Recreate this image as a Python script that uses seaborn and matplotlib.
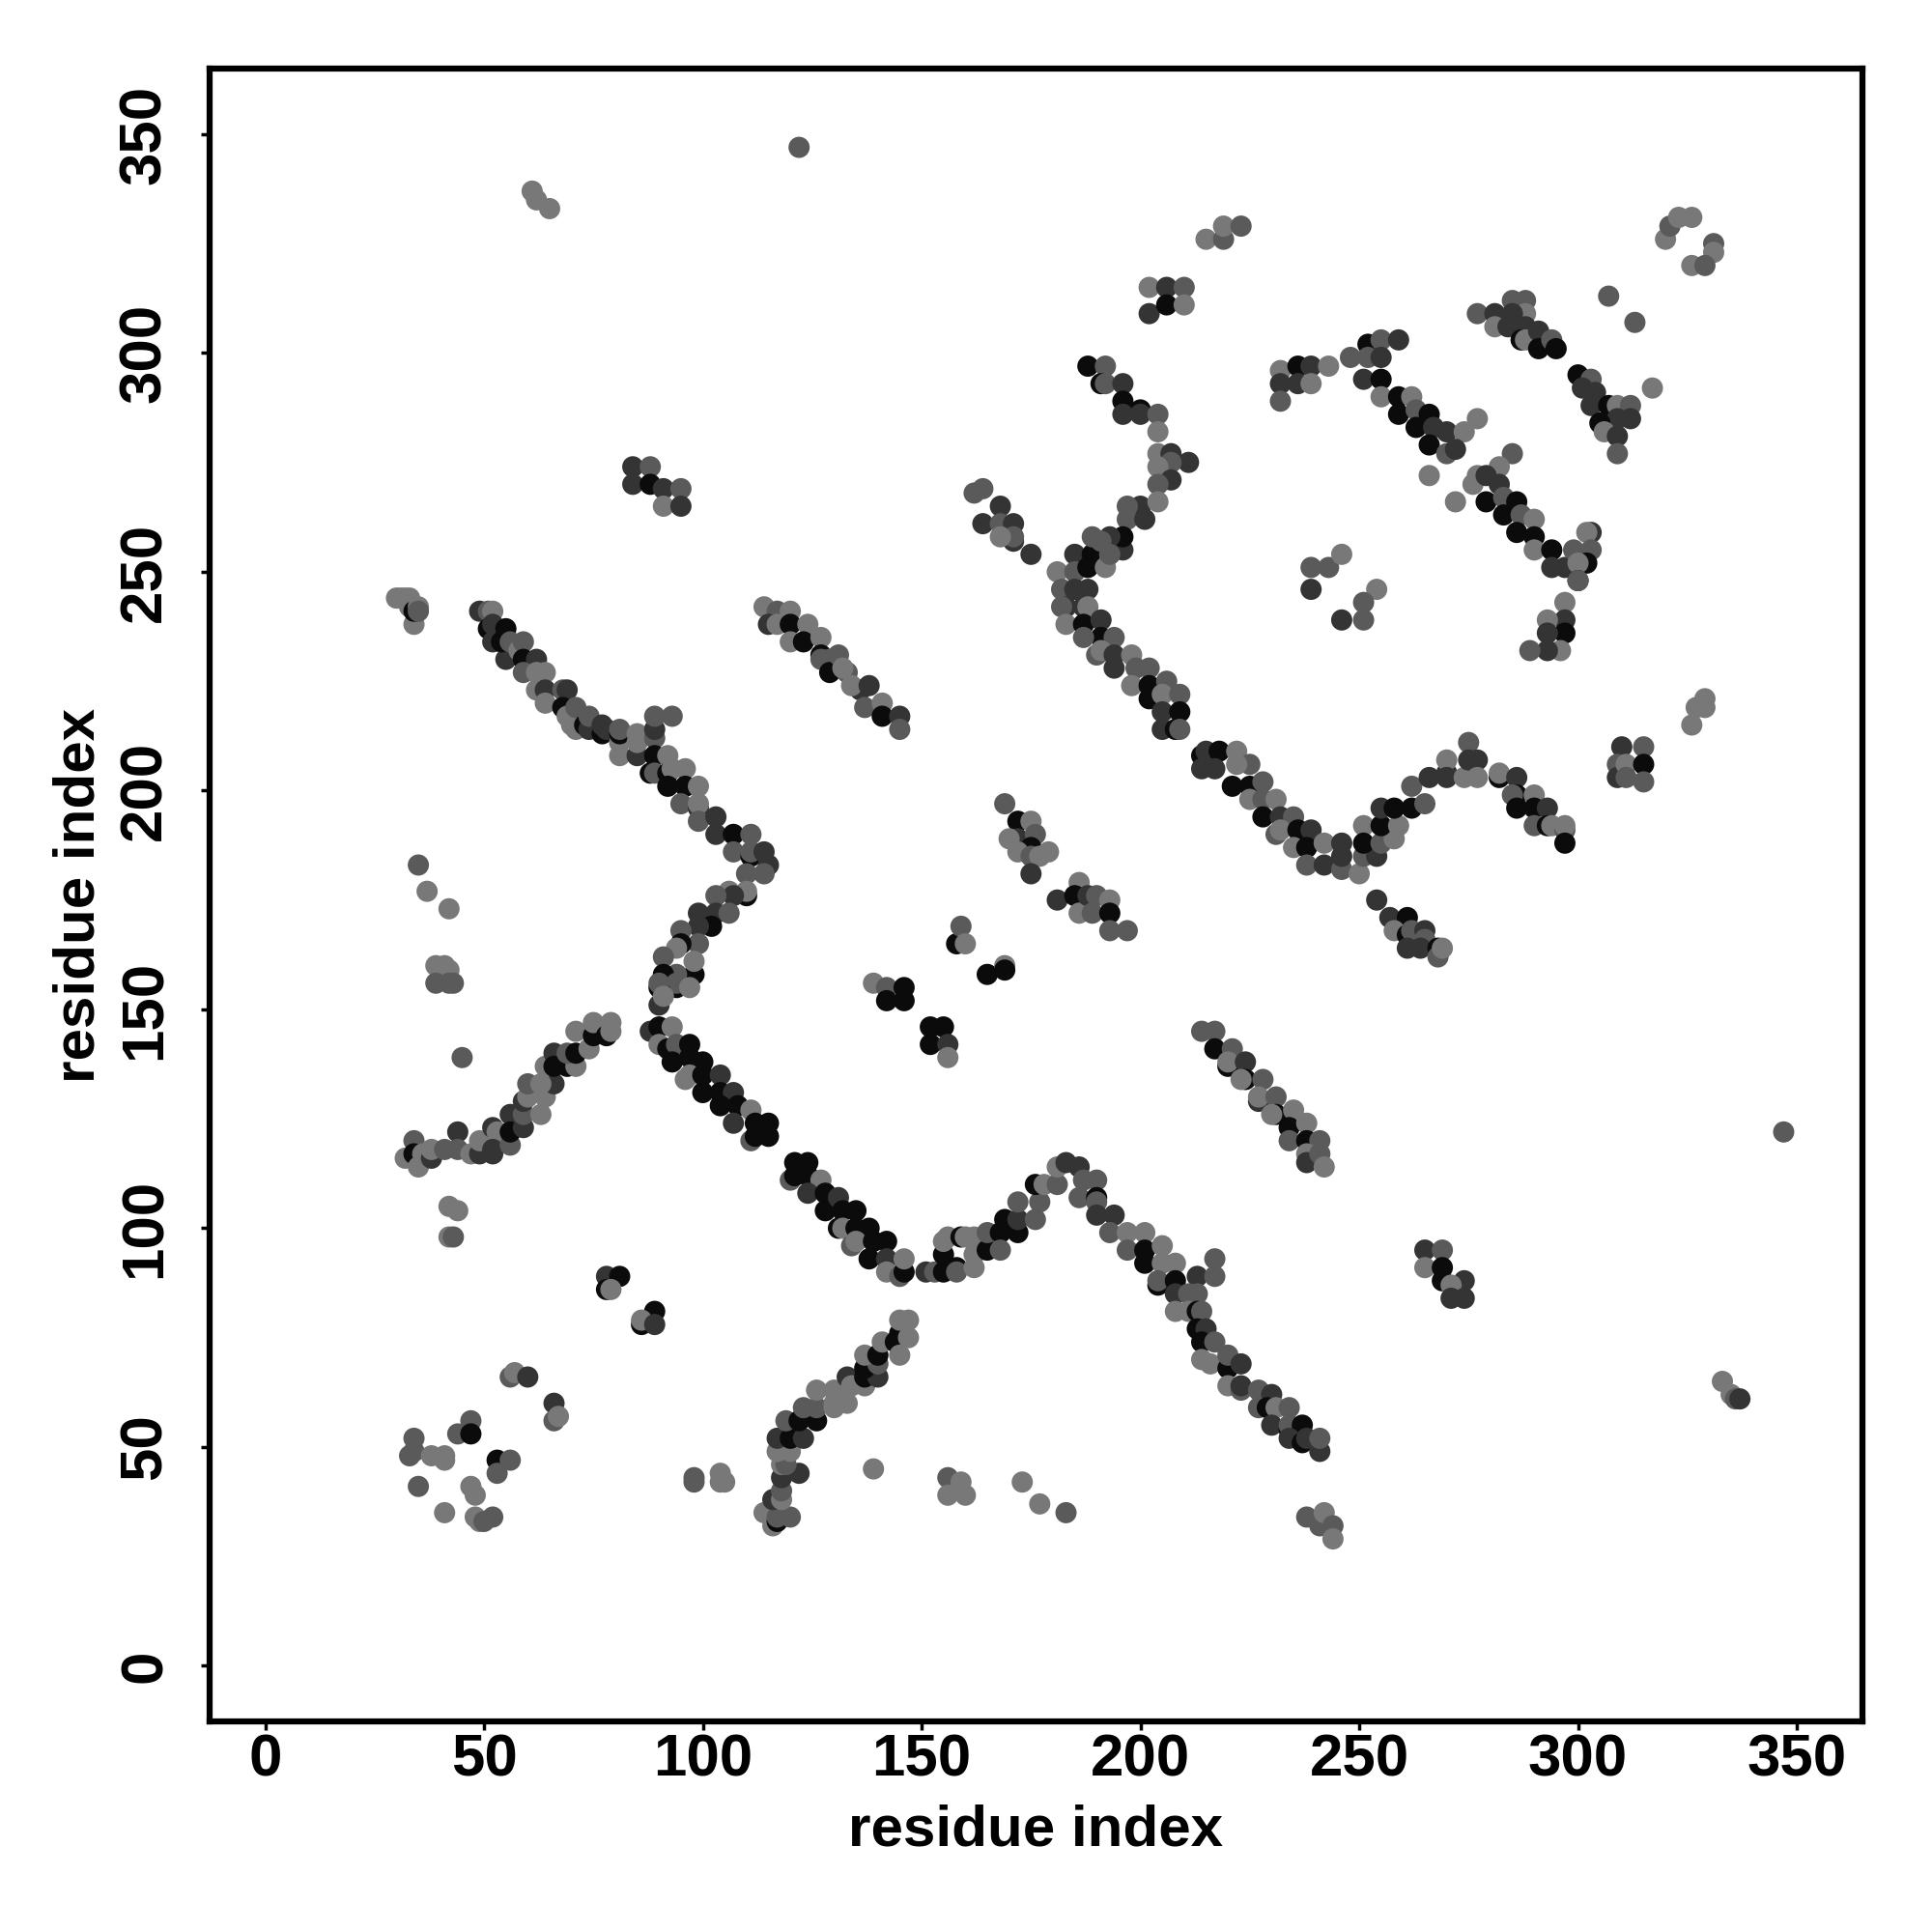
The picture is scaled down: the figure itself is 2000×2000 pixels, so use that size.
import pandas as pd
import matplotlib
matplotlib.use('Agg')
import matplotlib.pyplot as plt
import seaborn as sns

# shade levels of the dots
K, D, M, L = 0, 1, 2, 3
shade_colors = {K: '#0b0b0b', D: '#343434', M: '#5a5a5a', L: '#787878'}

tick_values = [0, 50, 100, 150, 200, 250, 300, 350]

# (residue x, residue y, shade), one list per region
corner_left = [(30,244,L),(31,244,L),(32,244,L),(33,244,L),(34,238,L),(33,242,L),(34,241,K),(35,242,L),(35,241,M)]

strand_upper_left = [
    (49,241,D),(51,241,M),(52,241,L),(51,237,K),(52,238,D),(52,234,D),(55,237,K),(55,230,D),(54,234,K),(56,234,M),
    (58,232,L),(59,234,M),(59,230,K),(62,230,D),(59,227,M),(62,227,L),(64,227,L),(62,223,L),(64,223,D),(64,220,L),
    (68,223,M),(69,223,D),(68,219,K),(69,217,L),(70,215,L),(71,214,L),(71,219,M),(73,215,K),(74,214,D),(74,217,M),
    (77,213,K),(77,215,D),(78,214,D),(81,211,L),(81,208,L),(81,213,K),(81,214,M),(85,208,D),(85,211,L),(85,213,L),
    (89,212,M),(89,214,D),(89,217,M),(93,217,M),(89,208,K),(88,204,K),(89,204,M),(92,208,L),(92,204,K),(93,205,L),
    (96,205,L),(92,201,K),(96,201,K),(99,201,L),(95,197,M),(99,196,D),(99,197,L),(99,193,M),(103,194,D),(103,190,D),
    (107,190,K),(111,190,M),(107,186,M),(111,185,K),(111,186,M),(114,186,D),(115,183,D),(114,181,M),(110,181,M),
    (110,176,K),(110,177,L),(106,177,L),(107,176,D),(103,176,M),(103,172,D),(106,172,M),(99,172,D),(102,169,K),
    (99,169,D),(95,168,M),(99,165,M),(95,165,K),(94,164,L),(91,162,M),(98,158,K),(98,161,L),(94,158,M),(91,158,K),
    (94,155,K),(94,156,M),(97,155,L),(90,155,K),(90,156,M),(90,151,D),(91,153,L),
]

strand_left_rise = [
    (32,116,L),(34,120,M),(34,117,K),(35,114,L),(36,117,L),(38,116,D),(38,118,L),(41,118,M),(44,122,D),(44,118,M),
    (47,117,L),(49,117,D),(49,120,L),(52,123,D),(53,122,L),(52,117,D),(52,118,D),(56,119,M),(56,126,D),(56,122,K),
    (59,123,D),(59,126,M),(63,126,L),(59,129,D),(60,130,L),(60,133,M),(64,130,L),(66,133,D),(63,133,L),(64,137,L),
    (66,140,D),(66,137,K),(69,137,K),(71,137,L),(69,140,M),(71,140,K),(74,141,L),(71,145,L),(75,144,K),(75,147,L),
    (78,144,K),(79,147,L),(79,145,L),
]

strand_lower_middle = [
    (88,145,D),(90,146,K),(93,146,L),(90,142,L),(92,141,K),(94,142,M),(97,142,K),(93,138,K),(97,139,K),(100,138,K),
    (96,134,L),(97,135,L),(100,135,K),(104,135,D),(100,131,K),(104,131,K),(107,131,D),(104,128,K),(108,128,K),(111,127,L),
    (107,124,D),(111,120,M),(112,124,K),(115,124,K),(112,121,K),(115,121,K),(120,111,M),(121,115,K),(124,115,K),(121,112,K),
    (124,112,K),(127,111,L),(124,108,D),(128,108,K),(128,104,K),(131,107,D),(132,104,K),(135,104,K),(131,100,K),(132,100,L),
    (135,100,K),(138,100,K),(134,96,M),(135,97,L),(139,97,K),(142,97,K),(138,93,K),(142,93,D),(142,90,L),(145,89,M),
    (146,90,K),(146,93,L),(151,90,D),(153,90,M),(155,90,K),(155,94,K),(155,97,L),(156,98,L),(158,91,K),(158,90,M),
    (159,98,K),(160,98,L),(162,91,L),(162,94,L),(162,98,L),(165,95,K),(165,99,M),(168,99,K),(168,95,M),(169,102,K),
    (172,99,K),(172,102,D),(172,106,M),(176,102,M),(177,106,M),(176,110,K),(178,110,L),(181,110,M),(181,114,L),(183,115,D),
    (186,114,D),(187,111,M),(186,107,M),(190,111,M),(190,107,K),(190,106,M),(190,103,D),(194,103,D),(193,99,M),(197,99,L),
    (201,99,L),(197,95,M),(201,95,K),(201,92,K),(205,96,L),(205,92,L),(208,92,L),(204,87,K),(204,88,M),(208,88,K),
    (208,85,D),(213,89,D),(217,89,M),(217,93,M),(211,85,M),(213,85,M),(208,81,L),(211,81,L),(213,81,K),(214,81,M),
    (213,77,K),(215,77,D),(214,74,K),(217,74,M),(214,70,L),(216,69,L),(220,68,K),(220,71,M),(223,69,D),(220,64,L),
    (223,63,M),(223,64,D),(227,63,M),(230,62,D),(227,59,M),(229,59,K),(231,59,L),(234,59,M),(230,55,D),(234,54,K),
    (234,55,M),(237,55,K),(234,52,D),(237,51,K),(238,52,D),(241,49,D),(241,52,M),
]

strand_lower_rise = [
    (114,35,L),(116,32,L),(117,33,K),(117,34,M),(120,34,M),(116,38,D),(118,38,L),(118,40,M),(118,43,D),(122,44,D),
    (118,46,L),(119,46,M),(117,49,L),(120,49,L),(117,52,D),(120,52,K),(123,52,D),(119,56,M),(122,56,K),(126,56,K),
    (123,59,M),(126,59,M),(130,59,L),(126,63,L),(130,60,L),(130,63,L),(133,60,L),(133,66,D),(134,64,L),(137,64,L),
    (137,66,K),(140,66,D),(137,68,K),(140,69,M),(137,71,L),(140,71,K),(141,74,L),(144,74,K),(145,71,L),(145,76,K),
    (147,75,L),(145,79,L),(147,79,L),
]

strand_center_right = [
    (171,257,D),(175,254,D),(185,254,D),(189,254,K),(193,254,L),(196,255,D),(181,250,L),(185,250,M),(188,251,K),(192,251,L),
    (182,246,M),(185,246,D),(188,246,D),(183,242,D),(182,242,M),(187,242,D),(188,242,L),(183,238,L),(187,238,K),(191,239,D),
    (191,235,K),(187,235,M),(194,235,M),(190,231,M),(191,232,L),(194,231,D),(194,228,D),(198,231,L),(199,228,M),(202,228,M),
    (198,224,L),(202,224,K),(202,221,K),(206,225,M),(205,222,L),(209,222,M),(205,218,D),(209,218,K),(205,214,D),(208,214,K),(209,214,M),
    (214,208,K),(215,209,D),(218,209,K),(214,205,D),(217,205,D),(222,209,L),(225,206,M),(222,206,L),(221,201,K),(225,201,K),
    (228,202,M),(225,198,L),(228,198,M),(231,198,L),(228,194,K),(232,194,D),(235,194,M),(231,190,M),(232,191,L),(236,191,K),
    (239,191,D),(235,187,L),(238,187,K),(242,188,L),(246,188,D),(238,183,M),(242,183,D),(246,182,M),(246,185,D),(250,181,L),
    (251,192,L),(251,185,M),(254,185,D),(251,188,K),(255,188,M),(258,189,L),(255,192,K),(259,192,L),(255,196,D),(258,196,K),
    (262,196,K),(265,197,M),(262,201,M),(266,203,D),(270,204,D),(270,207,L),(270,203,D),(274,203,L),(275,211,M),(275,207,D),
    (277,207,D),(277,203,L),(282,203,K),(282,204,L),(286,203,D),(286,199,K),(285,199,M),(290,199,L),(286,196,K),(290,196,K),
    (293,196,D),(290,192,M),(293,192,K),(294,192,L),(297,191,M),(297,192,L),(297,188,K),
]

strand_lower_right = [(254,175,D),(257,171,D),(261,171,K),(258,168,L),(261,167,K),(262,168,M),(265,168,D),(265,166,M),
                      (261,164,D),(264,164,D),(268,164,K),(268,162,M),(269,164,L)]

strand_diag_a = [(114,242,L),(117,241,M),(120,241,L),(115,238,D),(117,238,L),(120,238,K),(124,238,L),(120,234,L),(123,234,K),
                 (127,235,L),(127,231,K),(127,230,M),(129,230,M),(129,227,K),(131,231,M),(133,227,M),(132,228,L),(136,223,D),
                 (134,224,L),(138,224,D),(137,219,M),(141,220,L),(141,217,K),(145,217,D),(145,214,M)]

strand_diag_b = [(214,145,M),(217,145,M),(217,141,K),(221,141,M),(220,137,K),(220,138,L),(224,138,D),(224,134,K),(223,134,L),
                 (228,134,M),(227,129,D),(227,130,L),(231,130,M),(231,126,K),(230,126,L),(235,127,L),(234,123,K),(238,124,L),
                 (234,120,M),(238,120,K),(241,120,M),(238,117,L),(238,115,D),(241,117,M),(242,114,L)]

strand_upper_mid = [
    (188,297,K),(192,297,M),(191,293,K),(192,293,M),(196,293,D),(196,289,K),(200,287,K),(196,286,D),(200,286,D),(204,286,M),
    (204,282,L),(204,277,L),(207,277,D),(211,275,D),(207,275,M),(204,274,L),(207,271,D),(204,270,M),(200,265,D),(197,265,M),
    (204,266,L),(197,262,M),(201,262,D),(196,258,K),(193,258,D),(191,257,M),(189,258,M),(193,254,M),
]

strand_top_right = [
    (232,296,L),(236,297,K),(239,297,D),(243,297,L),(232,293,D),(236,293,D),(239,293,L),(232,289,M),
    (248,299,M),(252,302,K),(252,299,M),(255,303,M),(255,299,D),(259,303,D),(251,294,D),(255,294,K),(255,290,L),(259,290,K),
    (262,290,L),(259,286,K),(263,287,M),(266,286,K),(263,283,K),(267,283,D),(270,282,D),(274,282,L),(277,285,L),(266,279,K),
    (270,277,M),(272,278,D),(266,272,L),(272,266,L),(285,277,M),(282,274,L),(276,270,L),(277,272,L),(279,272,D),(282,270,D),
    (279,266,K),(283,267,M),(286,266,K),(283,263,K),(287,263,M),(290,262,L),(286,259,K),(290,258,K),(290,255,L),(294,255,K),
    (294,251,D),(297,251,D),(299,255,M),(303,259,D),(302,259,L),(303,255,M),(302,252,K),(300,252,L),(300,248,K),(300,248,M),
    (297,243,L),(297,239,D),(293,239,L),(297,236,K),(293,236,D),(296,232,L),(293,232,D),(289,232,M),
]

cluster_right_top = [(277,309,M),(281,309,D),(281,306,L),(285,312,M),(284,306,D),(288,312,M),(288,309,L),(285,309,D),(288,306,D),
                     (287,303,K),(288,303,L),(291,305,D),(291,301,K),(294,303,M),(295,301,K),(307,313,M),(313,307,M),(317,292,L),
                     (300,295,K),(303,294,M),(301,292,D),(304,291,D),(303,288,D),(307,288,K),(309,288,L),(312,288,M),(309,285,D),
                     (312,285,D),(305,284,K),(306,282,L),(309,281,D),(309,277,M)]

cluster_middle = [(169,197,M),(172,193,K),(175,193,L),(172,189,D),(170,189,L),(176,190,M),(175,187,K),(172,186,L),(175,185,M),
                  (179,186,L),(177,185,L),(175,181,D),(181,175,D),(186,179,L),(185,176,K),(186,172,L),(188,176,D),(190,176,M),
                  (189,172,M),(193,175,L),(193,172,K),(193,168,M),(197,168,M)]

cluster_center_dots = [(139,156,L),(142,155,M),(146,155,K),(142,152,K),(146,152,K),(152,146,K),(155,146,K),(152,142,K),(156,142,D),(156,139,L),
                       (158,165,K),(159,169,M),(160,165,L),(165,158,K),(169,160,L),(169,159,K)]

cluster_mid_right = [(239,251,M),(243,251,M),(246,254,L),(239,246,D),(254,246,L),(251,243,M),(251,239,M),(246,239,D)]

cluster_upper = [(84,274,D),(88,274,M),(84,270,D),(88,270,K),(91,269,D),(95,269,M),(91,265,L),(95,265,D),
                 (162,268,M),(164,269,M),(164,261,D),(168,265,D),(168,261,M),(171,261,D),(171,258,M),(168,258,L),
                 (202,315,L),(206,315,D),(210,315,M),(202,309,D),(206,311,K),(210,311,L),
                 (215,326,L),(219,326,M),(219,329,L),(223,329,M)]

cluster_far_right = [(320,326,L),(321,329,M),(323,331,L),(326,331,L),(331,325,M),(331,323,L),(326,320,L),(329,320,M),
                     (329,221,L),(327,219,L),(329,219,L),(326,215,L),(310,210,D),(315,210,M),(309,206,M),(309,203,D),
                     (311,206,L),(315,206,K),(315,202,M),(311,203,M),(347,122,M),(333,65,L),(335,62,L),(336,61,M),(337,61,D)]

cluster_lone = [(122,347,M),(61,337,L),(62,335,L),(65,333,L),(35,183,M),(37,177,L),(42,173,L),
                (39,160,L),(41,160,L),(42,159,L),(39,156,M),(42,156,M),(43,156,M),(45,139,M),
                (42,105,L),(44,104,L),(42,98,L),(43,98,M)]

cluster_lower_right = [(265,95,D),(269,95,M),(265,91,L),(269,91,K),(269,88,K),(274,88,D),(271,87,L),(271,84,D),(274,84,D),
                       (238,34,M),(241,32,M),(242,35,L),(244,32,M),(244,29,L)]

cluster_lower_left = [(78,89,D),(81,89,K),(78,86,K),(79,86,L),(89,81,K),(86,78,K),(86,79,L),(89,78,D),
                      (56,66,M),(57,67,L),(60,66,D),(66,60,D),(66,56,M),(67,57,L),
                      (47,56,M),(44,53,M),(47,53,K),(34,52,M),(33,48,M),(34,49,M),(38,48,L),(41,48,L),(41,47,L),
                      (53,47,K),(56,47,M),(53,44,M),(35,41,M),(41,35,L),(47,41,L),(48,39,L),(48,34,L),(49,33,L),(50,33,M),(52,34,M),
                      (98,43,M),(98,42,M),(104,44,L),(104,42,L),(105,42,L),(139,45,L),(156,43,M),(156,39,L),(159,42,L),(160,39,L),
                      (173,42,L),(177,37,L),(183,35,M)]

regions = [corner_left, strand_upper_left, strand_left_rise, strand_lower_middle, strand_lower_rise,
           strand_center_right, strand_lower_right, strand_diag_a, strand_diag_b, strand_upper_mid, strand_top_right,
           cluster_right_top, cluster_middle, cluster_center_dots, cluster_mid_right, cluster_upper, cluster_far_right,
           cluster_lone, cluster_lower_right, cluster_lower_left]

df = pd.DataFrame([p for r in regions for p in r], columns=['x', 'y', 'shade'])

sns.set_style('white')
plt.rcParams['font.family'] = ['Liberation Sans', 'DejaVu Sans']
plt.rcParams['font.weight'] = 'bold'
plt.rcParams['text.color'] = 'black'
plt.rcParams['axes.labelcolor'] = 'black'

fig = plt.figure(figsize=(20, 20), dpi=100)
ax = fig.add_axes([217 / 2000, 1 - 1782 / 2000, (1928 - 217) / 2000, (1782 - 71) / 2000])

sns.scatterplot(data=df, x='x', y='y', hue='shade', palette=shade_colors, s=250, linewidth=0, legend=False, ax=ax)

ax.set_xlim(-12.7, 365)
ax.set_ylim(-12.7, 365)
ax.set_xticks(tick_values)
ax.set_yticks(tick_values)
ax.tick_params(axis='both', length=6.5, width=2.5, color='black', labelcolor='black', labelsize=44.5, bottom=True, left=True)
ax.tick_params(axis='x', pad=2.8)
ax.tick_params(axis='y', labelrotation=90, pad=20.5)
for label in ax.get_yticklabels():
    label.set_va('center')
ax.set_xlabel('residue index', fontsize=43.3, fontweight='bold', labelpad=11)
ax.set_ylabel('residue index', fontsize=43.3, fontweight='bold', labelpad=9)
for spine in ax.spines.values():
    spine.set_linewidth(4.5)
    spine.set_color('black')

fig.savefig('out.png', dpi=100)
